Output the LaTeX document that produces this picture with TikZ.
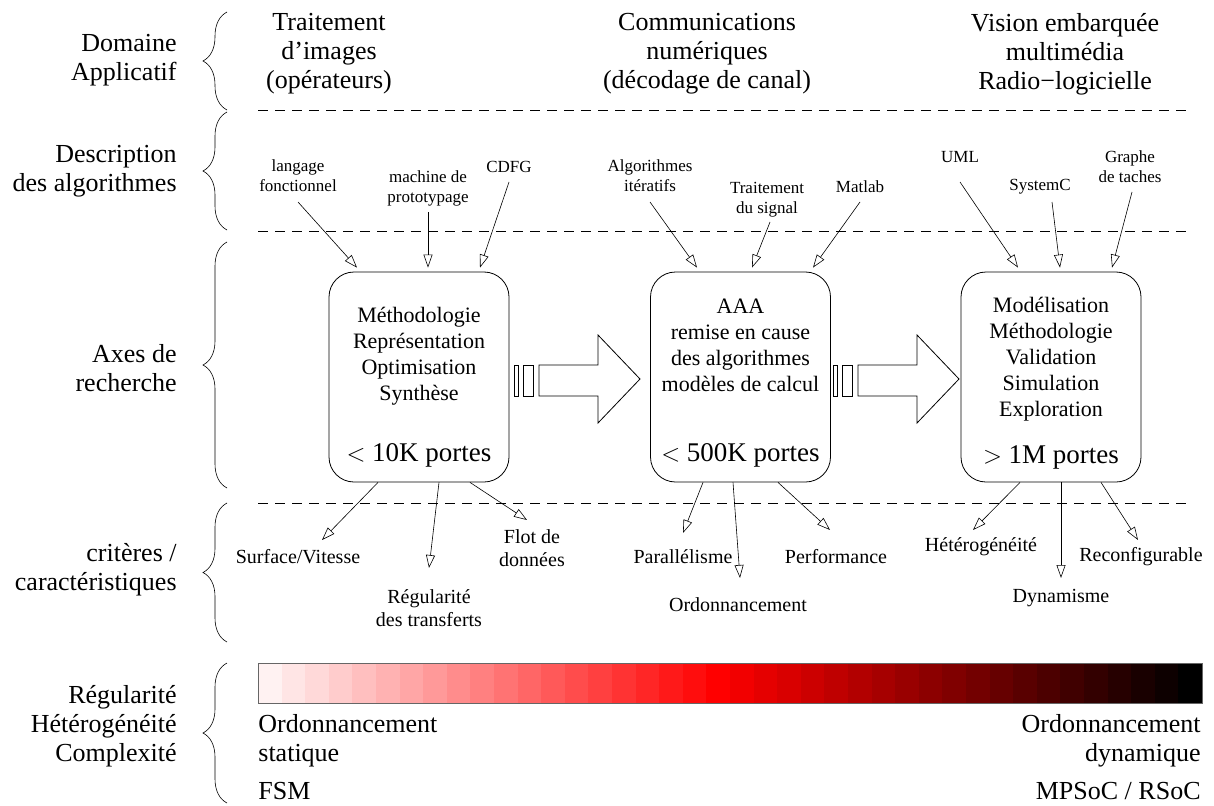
\documentclass[tikz,border=0pt]{standalone}
\usepackage{fontspec}
\setmainfont{Liberation Serif}
\usetikzlibrary{arrows.meta,positioning,decorations.pathreplacing}

\tikzset{
    lbl/.style={font=\fontsize{26}{29}\selectfont, align=right, anchor=east, inner sep=0pt},
    head/.style={font=\fontsize{26}{29}\selectfont, align=center, inner sep=0pt},
    small/.style={font=\fontsize{17}{20}\selectfont, align=center, inner sep=0pt},
    crit/.style={font=\fontsize{20}{23}\selectfont, align=center, inner sep=0pt},
    axe/.style={draw, rounded corners=25pt, minimum width=180pt, minimum height=210pt},
    boxtxt/.style={font=\fontsize{22}{26}\selectfont, align=center, inner sep=0pt},
    gates/.style={font=\fontsize{27}{30}\selectfont, inner sep=0pt},
    sep/.style={dash pattern=on 10pt off 7pt, line width=0.6pt},
    arr/.style={line width=0.6pt, -{Triangle[open, length=13pt, width=9pt]}},
    brc/.style={decorate, decoration={brace, amplitude=24pt}, line width=0.6pt}
}

\begin{document}
\begin{tikzpicture}[x=1pt, y=-1pt, line width=0.8pt]
    \useasboundingbox (0,0) rectangle (1214,805);

    % Left labels
    \node[lbl] (dom) at (177,60) {Domaine\\Applicatif};
    \node[lbl] (desc) at (177,171) {Description\\des algorithmes};
    \node[lbl] (axes) at (177,368) {Axes de\\recherche};
    \node[lbl] (crit) at (177,570) {critères /\\caractéristiques};
    \node[lbl] (regu) at (177,726) {Régularité\\Hétérogénéité\\Complexité};

    % Braces
    \foreach \ya/\yb in {110/12, 230/112, 488/242, 642/503, 803/663}
        \draw[brc] (227,\ya) -- (227,\yb);

    % Separators
    \foreach \y in {110, 231, 503}
        \draw[sep] (258,\y) -- (1192,\y);

    % Application domains
    \node[head] (img) at (329,54) {Traitement\\d’images\\(opérateurs)};
    \node[head] (com) at (707,54) {Communications\\numériques\\(décodage de canal)};
    \node[head] (vis) at (1065,54) {Vision embarquée\\multimédia\\Radio−logicielle};

    % Research boxes
    \node[axe] (box1) at (419,377) {};
    \node[axe] (box2) at (740.5,377) {};
    \node[axe] (box3) at (1051,377) {};

    \node[boxtxt] (t1) at (419,356) {Méthodologie\\Représentation\\Optimisation\\Synthèse};
    \node[boxtxt] (t2) at (740.5,345) {AAA\\remise en cause\\des algorithmes\\modèles de calcul};
    \node[boxtxt] (t3) at (1051,359) {Modélisation\\Méthodologie\\Validation\\Simulation\\Exploration};
    \node[gates] (p1) at (419,455) {$<$ 10K portes};
    \node[gates] (p2) at (740.5,455) {$<$ 500K portes};
    \node[gates] (p3) at (1051,457) {$>$ 1M portes};

    % Block arrows between boxes
    \foreach \dx in {0,319} {
        \begin{scope}[xshift=\dx pt]
            \draw (514,365) rectangle (518,396);
            \draw (523,365) rectangle (533,396);
            \draw (539,365) -- (598,365) -- (598,335) -- (640,379)
                -- (598,423) -- (598,396) -- (539,396) -- cycle;
        \end{scope}
    }

    % Algorithm descriptions
    \node[small] (lang) at (298,176) {langage\\fonctionnel};
    \node[small] (mach) at (428,188) {machine de\\prototypage};
    \node[small] (cdfg) at (509,167) {CDFG};
    \node[small] (iter) at (650,176) {Algorithmes\\itératifs};
    \node[small] (sig) at (767,200) {Traitement\\du signal};
    \node[small] (mat) at (860,187) {Matlab};
    \node[small] (uml) at (960,157) {UML};
    \node[small] (sysc) at (1040,187) {SystemC};
    \node[small] (graf) at (1130,167) {Graphe\\de taches};

    \coordinate (lang-s) at (298,202);
    \coordinate (mach-s) at (428,212);
    \coordinate (cdfg-s) at (509,182);
    \coordinate (iter-s) at (650,202);
    \coordinate (sig-s) at (770,222);
    \coordinate (mat-s) at (860,202);
    \coordinate (uml-s) at (960,182);
    \coordinate (sysc-s) at (1052,202);
    \coordinate (graf-s) at (1132,192);

    \draw[arr] (lang-s) -- ([xshift=-62pt, yshift=4pt]box1.north);
    \draw[arr] (mach-s) -- ([xshift=9pt, yshift=4pt]box1.north);
    \draw[arr] (cdfg-s) -- ([xshift=61pt, yshift=4pt]box1.north);
    \draw[arr] (iter-s) -- ([xshift=-43.5pt, yshift=4pt]box2.north);
    \draw[arr] (sig-s) -- ([xshift=11.5pt, yshift=4pt]box2.north);
    \draw[arr] (mat-s) -- ([xshift=72.5pt, yshift=4pt]box2.north);
    \draw[arr] (uml-s) -- ([xshift=-33pt, yshift=4pt]box3.north);
    \draw[arr] (sysc-s) -- ([xshift=9pt, yshift=4pt]box3.north);
    \draw[arr] (graf-s) -- ([xshift=61pt, yshift=4pt]box3.north);

    % Criteria
    \node[crit] (surf) at (298,557) {Surface/Vitesse};
    \node[crit] (regt) at (429,608) {Régularité\\des transferts};
    \node[crit] (flot) at (532,548) {Flot de\\données};
    \node[crit] (para) at (683,557) {Parallélisme};
    \node[crit] (ordo) at (738,605) {Ordonnancement};
    \node[crit] (perf) at (836,557) {Performance};
    \node[crit] (hete) at (981,547) {Hétérogénéité};
    \node[crit] (dyna) at (1061,598) {Dynamisme};
    \node[crit] (reco) at (1141,557) {Reconfigurable};

    \coordinate (surf-e) at (322,540);
    \coordinate (regt-e) at (429,568);
    \coordinate (flot-e) at (527,520);
    \coordinate (para-e) at (683,533);
    \coordinate (ordo-e) at (740,578);
    \coordinate (perf-e) at (830,530);
    \coordinate (hete-e) at (973,530);
    \coordinate (dyna-e) at (1061,578);
    \coordinate (reco-e) at (1138,540);

    \draw[arr] ([xshift=-41pt]box1.south) -- (surf-e);
    \draw[arr] ([xshift=20pt]box1.south) -- (regt-e);
    \draw[arr] ([xshift=51pt]box1.south) -- (flot-e);
    \draw[arr] ([xshift=-37.5pt]box2.south) -- (para-e);
    \draw[arr] ([xshift=-7.5pt]box2.south) -- (ordo-e);
    \draw[arr] ([xshift=37.5pt]box2.south) -- (perf-e);
    \draw[arr] ([xshift=-31pt]box3.south) -- (hete-e);
    \draw[arr] ([xshift=10pt]box3.south) -- (dyna-e);
    \draw[arr] ([xshift=50pt]box3.south) -- (reco-e);

    % Gradient bar
    \foreach \i in {0,...,39} {
        \pgfmathtruncatemacro{\pc}{\i<20 ? 5*(\i+1) : 100-5*(\i-19)}
        \ifnum\i<20 \colorlet{cell}{red!\pc!white}\else\colorlet{cell}{red!\pc!black}\fi
        \fill[cell] (258+23.6*\i,663) rectangle ++(23.7,40);
    }
    \draw[line width=0.6pt, black!60] (258,663) rectangle (1202,703);

    \node[head, align=left, anchor=west] (stat) at (258,741) {Ordonnancement\\statique};
    \node[head, align=right, anchor=east] (dyn) at (1201,741) {Ordonnancement\\dynamique};
    \node[head, anchor=base west] (fsm) at (258,799) {FSM};
    \node[head, anchor=base east] (mpsoc) at (1201,799) {MPSoC / RSoC};
\end{tikzpicture}
\end{document}
